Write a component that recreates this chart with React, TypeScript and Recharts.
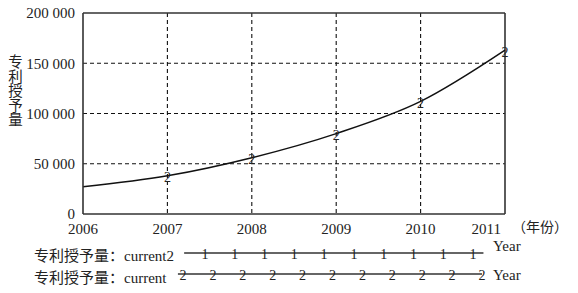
import { LineChart, Line, XAxis, YAxis, CartesianGrid, ReferenceLine, LabelList } from 'recharts';

const years = [2006, 2007, 2008, 2009, 2010, 2011];
const grants = [27000, 38000, 56000, 80000, 112000, 163000];
const grantMarks = ['', '2', '2', '2', '2', '2'];
const yTicks = [0, 50000, 100000, 150000, 200000];
const axisTitle = ['专', '利', '授', '予', '量'];

// the two strips under the chart
const current2Steps = [0.3, 1, 2, 3, 4, 5, 6, 7, 8, 9, 10, 10.35];
const current2Marks = ['', '1', '1', '1', '1', '1', '1', '1', '1', '1', '1', ''];
const currentSteps = [-0.17, 0, 1, 2, 3, 4, 5, 6, 7, 8, 9, 10];
const currentMarks = ['', '2', '2', '2', '2', '2', '2', '2', '2', '2', '2', '2'];

const FONT = '"Liberation Serif", "Noto Sans CJK SC", serif';
const INK = '#222';
const AXIS = '#333';

const mainData = years.map((year, i) => ({ year, grants: grants[i], mark: grantMarks[i] }));
const row1 = current2Steps.map((step, i) => ({ step, v: 0.5, mark: current2Marks[i] }));
const row2 = currentSteps.map((step, i) => ({ step, v: 0.5, mark: currentMarks[i] }));

const fmt = (v: number) => (v === 0 ? '0' : String(v).replace(/\B(?=(\d{3})+(?!\d))/g, ' '));

const MarkLabel = (dy: number) => (props: any) => {
  const { x, y, value } = props;
  if (!value) return null;
  return (
    <text x={x} y={y + dy} textAnchor="middle" dominantBaseline="central" fontSize={14} fontFamily={FONT} fill={INK}>
      {value}
    </text>
  );
};

const YearTick = (props: any) => {
  const { x, y, payload, index } = props;
  const last = index === years.length - 1;
  return (
    <text x={last ? x - 4 : x} y={y + 1} dy="0.71em" textAnchor={last ? 'end' : 'middle'} fontSize={15} fontFamily={FONT} fill={INK}>
      {payload.value}
    </text>
  );
};

function Strip({ data, left, right, domain, top }: { data: any[]; left: number; right: number; domain: [number, number]; top: number }) {
  return (
    <div style={{ position: 'absolute', left: 0, top }}>
      <LineChart width={578} height={24} data={data} margin={{ top: 0, right, bottom: 0, left }}>
        <XAxis type="number" dataKey="step" domain={domain} hide />
        <YAxis domain={[0, 1]} hide />
        <Line dataKey="v" stroke={AXIS} strokeWidth={1.3} dot={false} isAnimationActive={false}>
          <LabelList dataKey="mark" content={MarkLabel(1)} />
        </Line>
      </LineChart>
    </div>
  );
}

const textStyle = { position: 'absolute' as const, fontFamily: FONT, color: INK, whiteSpace: 'nowrap' as const };

export default function App() {
  return (
    <div style={{ position: 'absolute', left: 0, top: 0, width: 578, height: 293, background: '#fff' }}>
      <LineChart width={578} height={245} data={mainData} margin={{ top: 13, right: 73, bottom: 1, left: 0 }}>
        <CartesianGrid
          stroke="#111"
          strokeWidth={1.1}
          strokeDasharray="4 3"
          horizontalValues={yTicks.slice(1, -1)}
          verticalValues={years.slice(1, -1)}
        />
        <XAxis
          type="number"
          dataKey="year"
          domain={[2006, 2011]}
          ticks={years}
          height={30}
          axisLine={{ stroke: AXIS, strokeWidth: 1.6 }}
          tickLine={false}
          tick={<YearTick />}
        />
        <YAxis
          domain={[0, 200000]}
          ticks={yTicks}
          width={83}
          axisLine={{ stroke: AXIS, strokeWidth: 1.6 }}
          tickLine={false}
          tickFormatter={fmt}
          tick={{ fontSize: 15, fontFamily: FONT, fill: INK }}
        />
        <ReferenceLine y={200000} stroke={AXIS} strokeWidth={1.6} />
        <ReferenceLine x={2011} stroke={AXIS} strokeWidth={1.6} />
        <Line type="monotone" dataKey="grants" stroke="#111" strokeWidth={1.5} dot={false} isAnimationActive={false}>
          <LabelList dataKey="mark" content={MarkLabel(2)} />
        </Line>
      </LineChart>

      <div style={{ ...textStyle, left: 8, top: 55, width: 15, fontSize: 14.5, lineHeight: '14.6px', textAlign: 'center' }}>
        {axisTitle.map((c) => (
          <div key={c}>{c}</div>
        ))}
      </div>
      <div style={{ ...textStyle, left: 512, top: 216, fontSize: 14 }}>（年份）</div>

      <Strip data={row1} left={175.2} right={75.2} domain={[0, 11]} top={241} />
      <Strip data={row2} left={153.1} right={96} domain={[-1, 10]} top={262} />

      <div style={{ ...textStyle, left: 34, top: 244, fontSize: 15 }}>专利授予量：current2</div>
      <div style={{ ...textStyle, left: 34, top: 266, fontSize: 15 }}>专利授予量：current</div>
      <div style={{ ...textStyle, left: 493, top: 238, fontSize: 15 }}>Year</div>
      <div style={{ ...textStyle, left: 493, top: 267, fontSize: 15 }}>Year</div>
    </div>
  );
}
